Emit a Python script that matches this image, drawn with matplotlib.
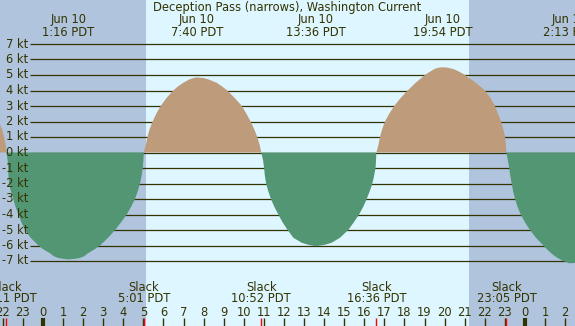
import numpy as np
import matplotlib
matplotlib.use("Agg")
import matplotlib.pyplot as plt

# current prediction: hours from midnight Jun 10, speed in knots
HOURS = [-2.60, -2.14, -2.04, -1.99, -1.94, -1.89, -1.85, -1.82,
         -1.76, -1.74, -1.72, -1.69, -1.60, -1.48, -1.37, -1.23, -1.08, -0.90, -0.62, -0.23, 0.02, 0.35, 0.55,
         0.75, 0.95, 1.27, 1.64, 1.84, 2.04, 2.24, 2.56, 2.84, 3.24, 3.59, 3.89, 4.17, 4.39, 4.58, 4.72, 4.83,
         4.91, 4.97, 5.00, 5.02,
         5.12, 5.20, 5.31, 5.46, 5.64, 5.86, 6.14, 6.49, 6.71, 6.99, 7.27, 7.47, 7.67, 8.02, 8.27, 8.65, 8.93,
         9.18, 9.56, 9.90, 10.13, 10.34, 10.52, 10.67, 10.79, 10.87,
         10.96, 11.01, 11.05, 11.11, 11.22, 11.35, 11.52, 11.72, 11.93, 12.18, 12.47, 12.88, 13.20, 13.60,
         14.04, 14.38, 14.79, 15.20, 15.48, 15.74, 15.95, 16.12, 16.27, 16.40, 16.49, 16.56, 16.585, 16.60,
         16.71, 16.78, 16.89, 17.03, 17.24, 17.49, 17.80, 18.16, 18.56, 19.02, 19.32, 19.52, 19.70, 19.90,
         20.16, 20.45, 20.72, 21.02, 21.55, 22.01, 22.29, 22.51, 22.66, 22.81, 22.92, 23.01, 23.055, 23.08,
         23.15, 23.22, 23.27, 23.34, 23.41, 23.51, 23.63, 23.79, 24.00, 24.25, 24.55, 24.92, 25.14, 25.40,
         25.62, 25.91, 26.22, 26.80]
SPEED = [3.3, 1.8, 1.5, 1.3, 1.0, 0.7, 0.4, 0.0,
         -0.5, -1.0, -1.5, -2.0, -2.5, -3.0, -3.5, -4.0, -4.5, -5.0, -5.5, -6.0, -6.25, -6.5, -6.7,
         -6.8, -6.85, -6.9, -6.85, -6.8, -6.7, -6.5, -6.25, -6.0, -5.5, -5.0, -4.5, -4.0, -3.5, -3.0, -2.5, -2.0,
         -1.5, -1.0, -0.5, 0.0,
         0.5, 1.0, 1.5, 2.0, 2.5, 3.0, 3.5, 4.0, 4.25, 4.5, 4.7, 4.8, 4.85, 4.8, 4.7, 4.5, 4.25,
         4.0, 3.5, 3.0, 2.5, 2.0, 1.5, 1.0, 0.5, 0.0,
         -0.5, -1.0, -1.5, -2.0, -2.5, -3.0, -3.5, -4.0, -4.5, -5.0, -5.5, -5.82, -5.95, -6.05,
         -5.95, -5.82, -5.5, -5.0, -4.5, -4.0, -3.5, -3.0, -2.5, -2.0, -1.5, -1.0, -0.5, 0.0,
         0.5, 1.0, 1.5, 2.0, 2.5, 3.0, 3.5, 4.0, 4.5, 5.0, 5.25, 5.4, 5.47, 5.5,
         5.47, 5.38, 5.22, 5.0, 4.5, 4.0, 3.5, 3.0, 2.5, 2.0, 1.5, 1.0, 0.5, 0.0,
         -0.5, -1.0, -1.5, -2.0, -2.5, -3.0, -3.5, -4.0, -4.5, -5.0, -5.5, -6.0, -6.3, -6.6,
         -6.8, -7.0, -7.15, -7.1]

MAX_TIMES = [1.27, 7.67, 13.60, 19.90, 26.22]
MAX_LABELS = ["1:16 PDT", "7:40 PDT", "13:36 PDT", "19:54 PDT", "2:13 PDT"]
SLACK_TIMES = [-1.82, 5.02, 10.87, 16.60, 23.08]
SLACK_LABELS = ["22:11 PDT", "5:01 PDT", "10:52 PDT", "16:36 PDT", "23:05 PDT"]
NIGHT = [(-3.0, 5.13), (21.22, 27.0)]
KT_LEVELS = list(range(-7, 8))
HOUR_TICKS = list(range(-2, 27))

TITLE = "Deception Pass (narrows), Washington Current"

W, H = 575, 326
X0_PIX, PX_PER_HR = 43, 20.08
Y0_PIX, PX_PER_KT = 152.5, 15.5

DAY = "#ddf6ff"
NIGHT_C = "#b0c4de"
FLOOD = "#bd9b7b"
EBB = "#529673"
INK = "#333300"
FS = 8.3


def hx(px):
    return (px - X0_PIX) / PX_PER_HR


def fy(py):
    # pixel row from top -> axes fraction
    return 1 - py / H


fig = plt.figure(figsize=(W / 100, H / 100), dpi=100)
ax = fig.add_axes([0, 0, 1, 1])
ax.set_xlim(hx(0), hx(W))
ax.set_ylim((Y0_PIX - H) / PX_PER_KT, Y0_PIX / PX_PER_KT)
ax.axis("off")
ax.add_patch(plt.Rectangle((0, 0), 1, 1, transform=ax.transAxes, color=DAY, zorder=0))

for a, b in NIGHT:
    ax.axvspan(a, b, color=NIGHT_C, lw=0, zorder=0.5)

# kt grid lines with labels
ax.hlines(KT_LEVELS, hx(30), hx(W), color=INK, lw=0.9, zorder=1)
for k in KT_LEVELS:
    ax.text(hx(28), k, f"{k} kt", ha="right", va="center", fontsize=FS, color=INK, zorder=3)

t = np.array(HOURS)
v = np.array(SPEED)
ax.fill_between(t, v, 0, where=v >= 0, interpolate=True, color=FLOOD, lw=0, zorder=2)
ax.fill_between(t, v, 0, where=v <= 0, interpolate=True, color=EBB, lw=0, zorder=2)

tr = ax.get_xaxis_transform()
ax.text((hx(0) + hx(W)) / 2, fy(7), TITLE, transform=tr, ha="center", va="center", fontsize=FS, color=INK)
for tm, lab in zip(MAX_TIMES, MAX_LABELS):
    ax.text(tm, fy(19), "Jun 10", transform=tr, ha="center", va="center", fontsize=FS, color=INK)
    ax.text(tm, fy(32), lab, transform=tr, ha="center", va="center", fontsize=FS, color=INK)
for tm, lab in zip(SLACK_TIMES, SLACK_LABELS):
    ax.text(tm, fy(287.5), "Slack", transform=tr, ha="center", va="center", fontsize=FS, color=INK)
    ax.text(tm, fy(299), lab, transform=tr, ha="center", va="center", fontsize=FS, color=INK)

# hour ticks along the bottom, midnight drawn heavier
for hr in HOUR_TICKS:
    ax.text(hr, fy(312), str(hr % 24), transform=tr, ha="center", va="center", fontsize=FS, color=INK)
    lw = 3 if hr % 24 == 0 else 1
    ax.vlines(hr, fy(326), fy(318), transform=tr, color=INK, lw=lw)
ax.vlines(SLACK_TIMES, fy(326), fy(318), transform=tr, color="red", lw=1)

fig.savefig("out.png", dpi=100)
